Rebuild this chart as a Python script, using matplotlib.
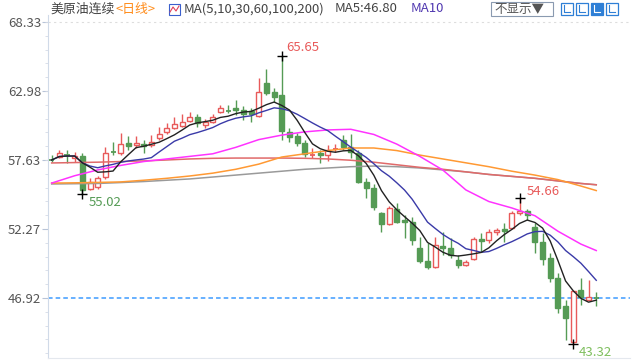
import numpy as np
import pandas as pd
import matplotlib
matplotlib.use("Agg")
import matplotlib.pyplot as plt
from matplotlib.patches import Rectangle
from matplotlib.ticker import AutoMinorLocator

plt.rcParams['font.family'] = ['Noto Sans CJK SC', 'DejaVu Sans']

# 日K 数据 (开, 高, 低, 收)
opens = [57.69, 57.85, 58.08, 57.77, 57.93, 55.37, 55.52, 56.30, 58.31, 58.16,
         58.93, 58.78, 58.86, 58.78, 59.32, 59.79, 60.10, 60.25, 60.64, 60.95,
         60.33, 60.56, 61.34, 61.49, 61.65, 61.49, 61.42, 61.03, 63.59, 62.89,
         62.66, 59.79, 59.48, 58.93, 58.00, 58.16, 58.00, 58.47, 59.17, 58.62,
         58.16, 55.91, 55.45, 53.51, 52.66, 53.82, 52.97, 52.81, 50.79, 49.79,
         49.32, 50.95, 50.79, 49.86, 49.48, 49.94, 51.49, 51.42, 52.04, 52.27,
         52.35, 53.51, 53.66, 52.42, 51.26, 50.02, 48.47, 46.30, 43.51, 47.54,
         46.77, 47.00]
highs = [58.00, 58.39, 58.39, 58.24, 58.16, 56.22, 56.38, 58.62, 59.01, 59.71,
         59.48, 59.48, 59.17, 59.55, 60.17, 60.49, 60.95, 61.18, 61.34, 61.18,
         60.80, 61.18, 61.88, 61.88, 62.27, 61.80, 61.65, 63.97, 64.67, 63.20,
         65.65, 60.10, 59.71, 59.17, 58.55, 58.39, 58.78, 58.86, 59.55, 59.63,
         58.39, 56.22, 55.76, 53.59, 54.05, 54.28, 53.35, 53.20, 51.65, 51.18,
         51.65, 52.04, 51.57, 50.25, 49.86, 51.65, 51.96, 52.27, 52.35, 52.73,
         53.66, 54.66, 53.82, 52.73, 51.96, 50.41, 48.86, 46.76, 47.45, 48.47,
         48.31, 47.38]
lows = [57.50, 57.77, 57.38, 57.46, 55.02, 55.29, 55.37, 56.14, 58.00, 58.00,
        58.39, 58.55, 58.16, 58.62, 59.17, 59.63, 60.02, 60.17, 60.56, 60.17,
        60.10, 60.49, 61.26, 61.26, 61.10, 60.72, 60.56, 60.95, 62.66, 62.11,
        59.17, 59.01, 58.70, 57.85, 57.77, 57.38, 57.54, 58.24, 58.39, 57.77,
        55.83, 54.67, 53.74, 52.04, 52.58, 52.73, 51.57, 51.03, 49.63, 49.17,
        49.24, 50.25, 50.02, 49.24, 49.40, 49.86, 50.49, 51.18, 51.80, 51.26,
        52.27, 53.35, 52.97, 50.41, 49.48, 48.16, 45.76, 43.66, 43.32, 46.38,
        46.77, 46.30]
closes = [57.62, 58.16, 58.00, 57.93, 55.29, 55.91, 56.22, 58.16, 58.24, 58.86,
          58.70, 58.93, 58.70, 59.01, 59.63, 60.10, 60.41, 60.56, 60.95, 60.49,
          60.56, 60.95, 61.65, 61.42, 61.49, 61.18, 61.18, 62.89, 62.81, 62.50,
          59.86, 59.40, 58.93, 58.08, 58.08, 58.00, 58.39, 58.55, 58.62, 58.24,
          55.91, 55.45, 53.97, 52.66, 53.90, 52.81, 52.81, 51.42, 49.79, 49.32,
          51.03, 50.79, 50.25, 49.48, 49.71, 51.49, 51.34, 52.04, 52.19, 52.11,
          53.51, 53.66, 53.35, 51.26, 49.94, 48.47, 46.14, 45.40, 47.45, 47.00,
          47.00, 46.92]

# 长周期均线 (读图取样, 每3根K线一个点)
ma_idx = [0, 3, 6, 9, 12, 15, 18, 21, 24, 27, 30, 33, 36, 39, 42, 45, 48, 51,
          54, 57, 60, 63, 66, 69, 71]
ma30 = [55.83, 56.40, 56.85, 57.20, 57.50, 57.70, 57.90, 58.10, 58.60, 59.20,
        59.55, 59.80, 59.95, 60.00, 59.60, 58.85, 57.90, 56.84, 55.30, 54.40,
        53.90, 53.30, 52.10, 51.10, 50.60]
ma60 = [55.83, 55.85, 55.88, 55.92, 56.05, 56.20, 56.38, 56.60, 56.90, 57.30,
        57.85, 58.10, 58.35, 58.55, 58.55, 58.35, 58.00, 57.70, 57.40, 57.10,
        56.75, 56.45, 56.10, 55.60, 55.25]
ma100 = [57.39, 57.42, 57.45, 57.50, 57.55, 57.62, 57.70, 57.75, 57.77, 57.77,
         57.77, 57.75, 57.70, 57.60, 57.45, 57.25, 57.05, 56.90, 56.70, 56.50,
         56.35, 56.20, 56.00, 55.80, 55.70]
ma200 = [55.76, 55.78, 55.80, 55.87, 55.95, 56.05, 56.15, 56.30, 56.45, 56.60,
         56.75, 56.90, 57.00, 57.10, 57.15, 57.10, 57.00, 56.85, 56.70, 56.50,
         56.35, 56.20, 56.00, 55.80, 55.70]

yticks = [46.92, 52.27, 57.63, 62.98, 68.33]
last_price = 46.92
ma5_label = 46.80

RED = '#e85a5a'
GREEN = '#559b55'

fig = plt.figure(figsize=(6.4, 3.6), dpi=100)
ax = fig.add_axes([48 / 640, 2 / 360, 582 / 640, 343 / 360])

n = len(closes)
xs = np.arange(n)
w = 0.66

for i in range(n):
    o, h, l, c = opens[i], highs[i], lows[i], closes[i]
    up = c >= o
    col = RED if up else GREEN
    top, bot = max(o, c), min(o, c)
    if up:
        ax.vlines(i, top, h, color=col, lw=1, zorder=2)
        ax.vlines(i, l, bot, color=col, lw=1, zorder=2)
    else:
        ax.vlines(i, l, h, color=col, lw=1, zorder=2)
    if top - bot < 0.12:
        ax.hlines((top + bot) / 2, i - w / 2, i + w / 2, color=col, lw=1.3, zorder=3)
    else:
        ax.add_patch(Rectangle((i - w / 2, bot), w, top - bot,
                               facecolor='white' if up else col,
                               edgecolor=col, lw=1, zorder=3))

# 均线
cs = pd.Series(closes)
ma5 = cs.rolling(5, min_periods=1).mean()
ma10 = cs.rolling(10, min_periods=1).mean()
ax.plot(ma_idx, ma200, color='#9a9a9a', lw=1.1, zorder=4)
ax.plot(ma_idx, ma100, color='#e06a6a', lw=1.1, zorder=4)
ax.plot(ma_idx, ma60, color='#ff9933', lw=1.1, zorder=4)
ax.plot(ma_idx, ma30, color='#ff33ff', lw=1.1, zorder=4)
ax.plot(xs, ma10, color='#3a3aa8', lw=1.0, zorder=5)
ax.plot(xs, ma5, color='#222222', lw=1.0, zorder=6)

# 当前价虚线
ax.axhline(last_price, color='#3d9bff', lw=1.1, ls=(0, (3, 2)), zorder=1)
ax.axhline(yticks[-1], color='#dddddd', lw=0.8, ls=(0, (2, 3)), zorder=0)

# 最高/最低价标注
hi = int(np.argmax(highs))
lo = int(np.argmin(lows))
lo1 = int(np.argmin(lows[:20]))
hi2 = 55 + int(np.argmax(highs[55:66]))
for idx, val in [(hi, highs[hi]), (lo, lows[lo]), (lo1, lows[lo1]), (hi2, highs[hi2])]:
    ax.plot(idx, val, marker='+', color='black', ms=7, mew=1, zorder=7)
ax.text(hi + 0.6, highs[hi] + 0.15, f'{highs[hi]:.2f}', color=RED, fontsize=9.5, va='bottom', ha='left')
ax.text(hi2 + 0.9, highs[hi2] + 0.05, f'{highs[hi2]:.2f}', color=RED, fontsize=9.5, va='bottom', ha='left')
ax.text(lo1 + 0.8, lows[lo1] - 0.2, f'{lows[lo1]:.2f}', color=GREEN, fontsize=9.5, va='top', ha='left')
ax.text(lo + 0.7, lows[lo] - 0.15, f'{lows[lo]:.2f}', color='#7fbf5f', fontsize=9.5, va='top', ha='left')

ax.set_xlim(-0.48, 75.4)
ax.set_ylim(42.27, 68.86)
ax.set_xticks([])
ax.set_yticks(yticks)
ax.set_yticklabels([f'{v:.2f}' for v in yticks])
ax.yaxis.set_minor_locator(AutoMinorLocator(5))
ax.tick_params(axis='y', which='major', length=4, color='#b8c4d8', labelsize=9.5,
               labelcolor='#555555', pad=1)
ax.tick_params(axis='y', which='minor', length=2, color='#d5dbe6')
for s in ['top', 'right']:
    ax.spines[s].set_visible(False)
ax.spines['left'].set_color('#d0dae8')
ax.spines['bottom'].set_color('#e4e8ee')

# 顶部标题栏
def fx(x):
    return x / 640

def fy(y):
    return 1 - y / 360

fig.text(fx(50), fy(9), '美原油连续', fontsize=9.3, color='#444444', va='center')
fig.text(fx(115), fy(9), '<日线>', fontsize=9.3, color='#ff8c1a', va='center')
fig.patches.append(Rectangle((fx(169), fy(15)), 11 / 640, 11 / 360, transform=fig.transFigure,
                             facecolor='white', edgecolor='#3a5fcd', lw=0.8))
fig.lines.append(plt.Line2D([fx(170), fx(173), fx(176), fx(179)], [fy(12), fy(7), fy(11), fy(6)],
                            transform=fig.transFigure, color='#e0405a', lw=0.8))
fig.text(fx(184), fy(9), 'MA(5,10,30,60,100,200)', fontsize=9.5, color='#444444', va='center')
fig.text(fx(335), fy(9), f'MA5:{ma5_label:.2f}', fontsize=9.5, color='#444444', va='center')
fig.text(fx(411), fy(9), 'MA10', fontsize=9.5, color='#5038b0', va='center')

fig.patches.append(Rectangle((fx(491), fy(16)), 62 / 640, 14 / 360, transform=fig.transFigure,
                             facecolor='white', edgecolor='#8a9ab0', lw=0.8))
fig.text(fx(494), fy(9), '不显示▼', fontsize=9, color='#555555', va='center')
for k, filled in enumerate([False, False, True, False]):
    x0 = 561 + k * 15
    fig.patches.append(Rectangle((fx(x0), fy(15)), 12 / 640, 12 / 360, transform=fig.transFigure,
                                 facecolor='#2e7fd6' if filled else 'white',
                                 edgecolor='#2e7fd6', lw=0.9))
    c = 'white' if filled else '#2e7fd6'
    fig.lines.append(plt.Line2D([fx(x0 + 3), fx(x0 + 3), fx(x0 + 9)], [fy(5), fy(12), fy(12)],
                                transform=fig.transFigure, color=c, lw=0.8))

fig.savefig('out.png', dpi=100)
